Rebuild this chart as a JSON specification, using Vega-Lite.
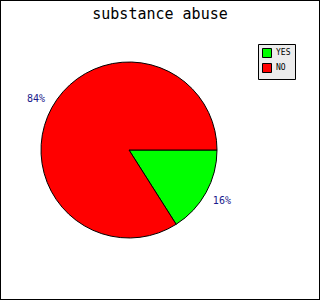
{
  "$schema": "https://vega.github.io/schema/vega-lite/v6.json",
  "width": 320,
  "height": 300,
  "autosize": {"type": "fit", "contains": "padding"},
  "padding": 0,
  "background": "white",
  "view": {"stroke": "black", "strokeWidth": 2, "fill": "white"},
  "title": {"text": "substance abuse", "font": "DejaVu Sans Mono", "fontSize": 15, "fontWeight": "normal", "color": "black", "anchor": "middle", "offset": -22, "baseline": "top"},
  "data": {"values": [
    {"answer": "YES", "share": 0.16, "ord": 1},
    {"answer": "NO", "share": 0.84, "ord": 2}
  ]},
  "encoding": {
    "theta": {"field": "share", "type": "quantitative", "stack": true, "scale": {"range": [1.5708, 7.854]}},
    "order": {"field": "ord", "type": "quantitative"}
  },
  "layer": [
    {
      "mark": {"type": "arc", "radius": 88, "x": 129, "stroke": "black", "strokeWidth": 1},
      "encoding": {
        "color": {"field": "answer", "type": "nominal", "scale": {"domain": ["YES", "NO"], "range": ["#00ff00", "#ff0000"]},
          "legend": {"title": null, "orient": "none", "legendX": 258, "legendY": 44, "padding": 4, "fillColor": "#ececec", "strokeColor": "black", "symbolType": "square", "symbolSize": 81, "symbolStrokeColor": "black", "symbolStrokeWidth": 1, "symbolOpacity": 1, "labelFont": "DejaVu Sans Mono", "labelFontSize": 8, "labelColor": "black", "rowPadding": 1, "labelOffset": 4}}
      }
    },
    {
      "mark": {"type": "text", "radius": 106, "x": 129, "font": "DejaVu Sans Mono", "fontSize": 10, "color": "#1a1a8c"},
      "encoding": {"text": {"field": "share", "type": "quantitative", "format": ".0%"}}
    }
  ]
}
